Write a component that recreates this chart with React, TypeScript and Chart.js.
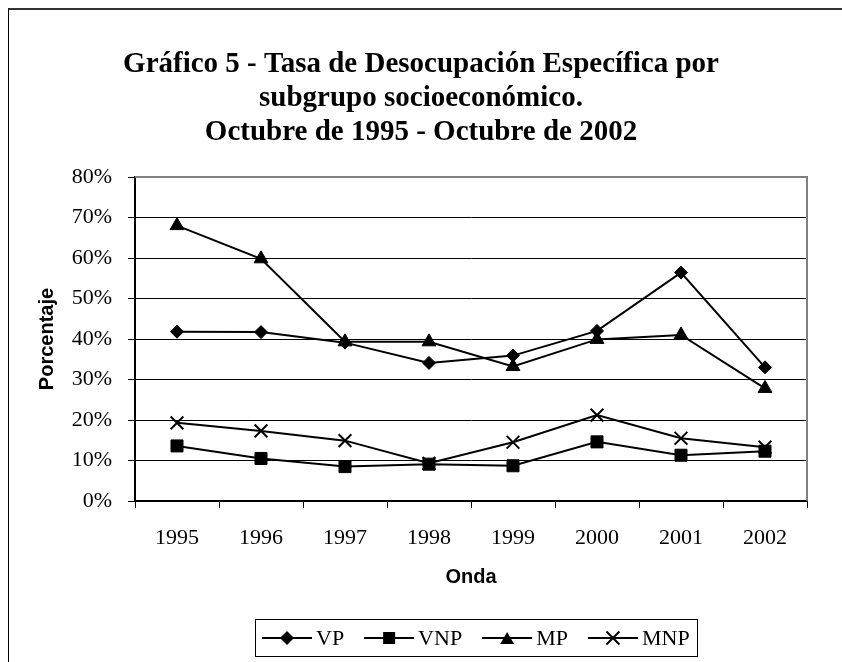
import React, { useEffect, useRef } from 'react';
import { Chart, registerables } from 'chart.js';

Chart.register(...registerables);

const categories = ['1995', '1996', '1997', '1998', '1999', '2000', '2001', '2002'];
const vpValues = [41.8, 41.7, 39.1, 34.1, 35.9, 42.0, 56.4, 33.0];
const vnpValues = [13.6, 10.5, 8.5, 9.1, 8.7, 14.6, 11.3, 12.3];
const mpValues = [68.0, 59.8, 39.3, 39.3, 33.2, 39.9, 41.0, 27.8];
const mnpValues = [19.3, 17.3, 14.9, 9.3, 14.5, 21.2, 15.5, 13.3];
const seriesLabels = ['VP', 'VNP', 'MP', 'MNP'];
const titleLines = [
  'Gráfico 5 - Tasa de Desocupación Específica por',
  'subgrupo socioeconómico.',
  'Octubre de 1995 - Octubre de 2002',
];
const yAxisTitle = 'Porcentaje';
const xAxisTitle = 'Onda';

const SERIF = '"Liberation Serif", "Times New Roman", serif';
const SANS = '"Liberation Sans", Arial, sans-serif';

function drawMarker(ctx: CanvasRenderingContext2D, style: string, x: number, y: number) {
  ctx.save();
  ctx.fillStyle = '#000';
  ctx.strokeStyle = '#000';
  ctx.beginPath();
  if (style === 'rectRot') {
    const r = 7;
    ctx.moveTo(x, y - r);
    ctx.lineTo(x + r, y);
    ctx.lineTo(x, y + r);
    ctx.lineTo(x - r, y);
    ctx.closePath();
    ctx.fill();
  } else if (style === 'rect') {
    const s = 6;
    ctx.rect(x - s, y - s, 2 * s, 2 * s);
    ctx.fill();
  } else if (style === 'triangle') {
    const r = 8;
    ctx.moveTo(x, y - r + 2);
    ctx.lineTo(x + r * 0.866, y + r / 2 + 2);
    ctx.lineTo(x - r * 0.866, y + r / 2 + 2);
    ctx.closePath();
    ctx.fill();
  } else {
    const r = 6.5;
    ctx.lineWidth = 2;
    ctx.moveTo(x - r, y - r);
    ctx.lineTo(x + r, y + r);
    ctx.moveTo(x + r, y - r);
    ctx.lineTo(x - r, y + r);
    ctx.stroke();
  }
  ctx.restore();
}

const plotBorder = {
  id: 'plotBorder',
  beforeDatasetsDraw(chart: any) {
    const { ctx, chartArea } = chart;
    const { left, top, right, bottom } = chartArea;
    ctx.save();
    ctx.strokeStyle = '#808080';
    ctx.lineWidth = 2;
    ctx.beginPath();
    ctx.moveTo(left, top);
    ctx.lineTo(right, top);
    ctx.lineTo(right, bottom);
    ctx.stroke();
    ctx.restore();
  },
};

const boxLegend = {
  id: 'boxLegend',
  afterDraw(chart: any) {
    const { ctx, chartArea } = chart;
    const ds = chart.data.datasets;
    ctx.save();
    ctx.font = `22px ${SERIF}`;
    ctx.textBaseline = 'middle';
    ctx.textAlign = 'left';
    ctx.fillStyle = '#000';
    const symW = 50;
    const gapT = 4;
    const gapI = 20;
    const padX = 7;
    const widths = ds.map((d: any) => ctx.measureText(d.label).width);
    const total =
      padX * 2 + ds.length * (symW + gapT) + widths.reduce((a: number, b: number) => a + b, 0) + gapI * (ds.length - 1);
    const cx = (chartArea.left + chartArea.right) / 2 + 5;
    const x0 = Math.round(cx - total / 2);
    const top = 619;
    const h = 37;
    ctx.strokeStyle = '#000';
    ctx.lineWidth = 1;
    ctx.strokeRect(x0 + 0.5, top + 0.5, Math.round(total), h);
    let x = x0 + padX;
    const cy = top + h / 2 + 0.5;
    ds.forEach((d: any, i: number) => {
      ctx.beginPath();
      ctx.lineWidth = 2;
      ctx.moveTo(x, cy);
      ctx.lineTo(x + symW, cy);
      ctx.stroke();
      drawMarker(ctx, d.pointStyle, x + symW / 2, cy);
      ctx.fillText(d.label, x + symW + gapT, cy + 1);
      x += symW + gapT + widths[i] + gapI;
    });
    ctx.restore();
  },
};

export default function App() {
  const ref = useRef<HTMLCanvasElement | null>(null);

  useEffect(() => {
    if (!ref.current) return;
    const mk = (label: string, data: number[], pointStyle: string, radius: number, bw: number) => ({
      label,
      data,
      borderColor: '#000',
      backgroundColor: '#000',
      borderWidth: 2,
      pointStyle,
      pointRadius: radius,
      pointHoverRadius: radius,
      pointBackgroundColor: '#000',
      pointBorderColor: '#000',
      pointBorderWidth: bw,
      tension: 0,
      yAxisID: 'y',
    });
    const chart = new Chart(ref.current, {
      type: 'line',
      data: {
        labels: categories,
        datasets: [
          mk(seriesLabels[0], vpValues, 'rectRot', 6.5, 1),
          mk(seriesLabels[1], vnpValues, 'rect', 8.5, 1),
          mk(seriesLabels[2], mpValues, 'triangle', 8, 1),
          mk(seriesLabels[3], mnpValues, 'crossRot', 9, 2),
        ] as any,
      },
      options: {
        responsive: false,
        animation: false,
        devicePixelRatio: 1,
        layout: { padding: { left: 0, right: 0, top: 0, bottom: 0 } },
        plugins: {
          legend: { display: false },
          tooltip: { enabled: false },
          title: {
            display: true,
            text: titleLines,
            color: '#000',
            font: { family: SERIF, size: 29, weight: 'bold', lineHeight: 34 / 29 },
            padding: { top: 48, bottom: 27 },
          },
        },
        scales: {
          x: {
            type: 'category',
            offset: true,
            grid: {
              offset: true,
              drawOnChartArea: false,
              drawTicks: true,
              tickLength: 7,
              tickColor: '#000',
              color: '#000',
            },
            border: { display: true, color: '#000', width: 2 },
            ticks: {
              color: '#000',
              font: { family: SERIF, size: 22 },
              padding: 17,
              maxRotation: 0,
              autoSkip: false,
            },
            title: {
              display: true,
              text: xAxisTitle,
              color: '#000',
              font: { family: SANS, size: 20, weight: 'bold', lineHeight: 1.2 },
              padding: { top: 0, bottom: 73 },
            },
            afterFit: (scale: any) => {
              scale.height = 161;
            },
          },
          y: {
            type: 'linear',
            position: 'left',
            min: 0,
            max: 80,
            ticks: {
              stepSize: 10,
              color: '#000',
              font: { family: SERIF, size: 22 },
              padding: 16,
              callback: (v: any) => `${v}%`,
            },
            grid: {
              color: '#000',
              lineWidth: 1,
              tickLength: 7,
              tickColor: '#000',
              drawTicks: true,
            },
            border: { display: true, color: '#000', width: 2 },
            title: {
              display: true,
              text: yAxisTitle,
              color: '#000',
              font: { family: SANS, size: 20, weight: 'bold', lineHeight: 1.2 },
              padding: { top: 35, bottom: 0 },
            },
            afterFit: (scale: any) => {
              scale.width = 135;
            },
          },
          yRight: {
            type: 'linear',
            position: 'right',
            display: true,
            ticks: { display: false },
            grid: { display: false, drawOnChartArea: false, drawTicks: false },
            border: { display: false },
            afterFit: (scale: any) => {
              scale.width = 35;
            },
          },
        },
      } as any,
      plugins: [plotBorder, boxLegend],
    });
    return () => chart.destroy();
  }, []);

  return (
    <div style={{ position: 'fixed', left: 0, top: 0, width: 842, height: 662, overflow: 'hidden', background: '#fff' }}>
      <div
        style={{
          position: 'absolute',
          left: 8,
          top: 8,
          width: 900,
          height: 700,
          borderLeft: '1px solid #000',
          borderTop: '2px solid #333',
          boxSizing: 'border-box',
        }}
      />
      <canvas ref={ref} width={842} height={662} style={{ position: 'absolute', left: 0, top: 0, width: 842, height: 662 }} />
    </div>
  );
}
